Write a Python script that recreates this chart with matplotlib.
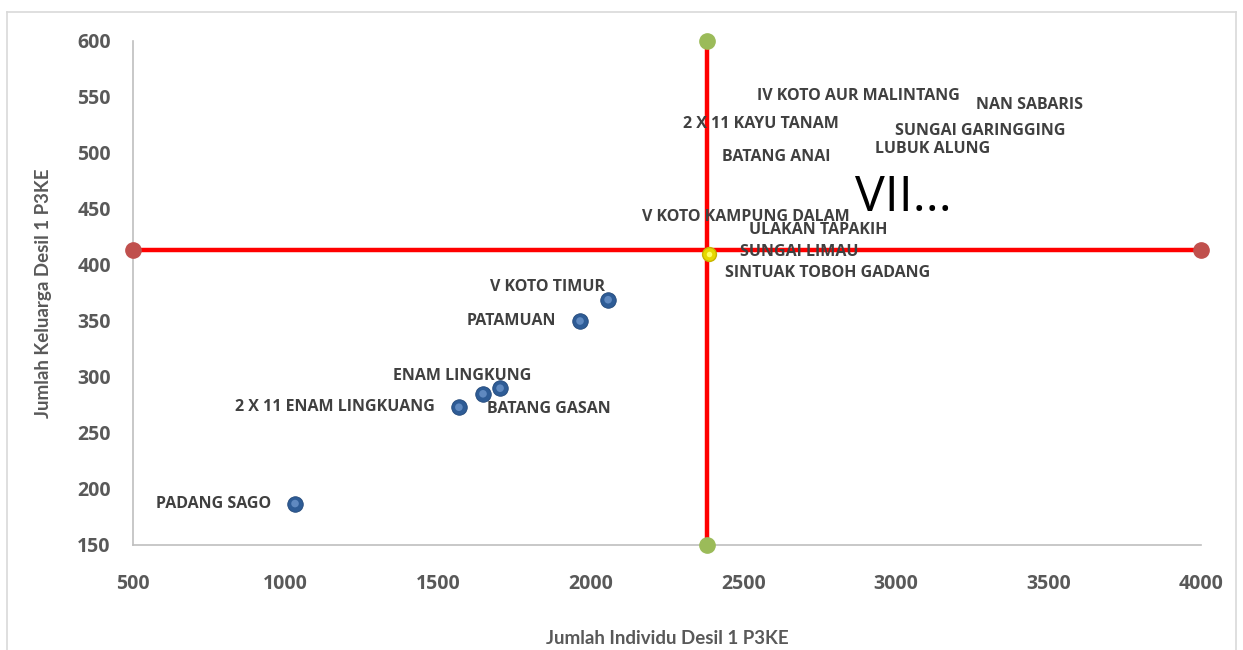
import matplotlib
matplotlib.use("Agg")
import matplotlib.pyplot as plt
from matplotlib.lines import Line2D

# kecamatan with visible markers (Jumlah Individu, Jumlah Keluarga)
names_low = ["V KOTO TIMUR", "PATAMUAN", "ENAM LINGKUNG", "BATANG GASAN",
             "2 X 11 ENAM LINGKUANG", "PADANG SAGO"]
x_low = [2057, 1965, 1703, 1647, 1568, 1031]
y_low = [369, 350, 290, 285, 273, 187]
# label offsets in pixels (dx, dy, ha)
off_low = [(-61, 13, "center"), (-24, 0, "right"), (-38, 12, "center"),
           (66, -15, "center"), (-24, 0, "right"), (-24, 0, "right")]

# labels in the upper-right quadrant (markers hidden)
names_up = ["IV KOTO AUR MALINTANG", "NAN SABARIS", "2 X 11 KAYU TANAM",
            "SUNGAI GARINGGING", "LUBUK ALUNG", "BATANG ANAI",
            "V KOTO KAMPUNG DALAM", "ULAKAN TAPAKIH", "SUNGAI LIMAU",
            "SINTUAK TOBOH GADANG"]
x_up = [2876, 3437, 2558, 3276, 3119, 2608, 2509, 2745, 2683, 2775]
y_up = [551, 543, 526, 520, 504, 496, 443, 431, 412, 393]
big_label = "VII..."
big_xy = (3024, 460)

# quadrant lines
mean_x = 2381
mean_y = 413
center_pt = (2388, 410)
xlim = (500, 4000)
ylim = (150, 600)

fig = plt.figure(figsize=(12.43, 6.5), dpi=100)
ax = fig.add_axes([133 / 1243, 1 - 545 / 650, (1201 - 133) / 1243, (545 - 41) / 650])

# outer chart border
fig.add_artist(Line2D([7 / 1243, 1236 / 1243], [1 - 12 / 650] * 2, color="#D9D9D9", lw=1.2))
fig.add_artist(Line2D([7 / 1243] * 2, [0, 1 - 12 / 650], color="#D9D9D9", lw=1.2))
fig.add_artist(Line2D([1236 / 1243] * 2, [0, 1 - 12 / 650], color="#D9D9D9", lw=1.2))

ax.plot(xlim, [mean_y, mean_y], color="#FF0000", lw=3.2, zorder=2)
ax.plot([mean_x, mean_x], ylim, color="#FF0000", lw=3.2, zorder=2)
ax.plot(xlim, [mean_y, mean_y], ls="none", marker="o", ms=11,
        mfc="#C0504D", mec="#C0504D", clip_on=False, zorder=4)
ax.plot([mean_x, mean_x], ylim, ls="none", marker="o", ms=11,
        mfc="#9BBB59", mec="#9BBB59", clip_on=False, zorder=4)
ax.plot(*center_pt, marker="o", ms=10, mfc="#E6D800", mec="#C8B400", zorder=4)
ax.plot(*center_pt, marker="o", ms=4, mfc="#FFFF66", mec="none", zorder=5)

# blue points, two layers for a bit of shading
ax.scatter(x_low, y_low, s=125, c="#2E5C96", edgecolors="#24497A", lw=0.6, zorder=4)
ax.scatter(x_low, y_low, s=30, c="#5F89C0", edgecolors="none", zorder=5)

lab = dict(fontfamily="Open Sans", fontweight="bold", fontsize=11.5, color="#404040")
for n, x, y, (dx, dy, ha) in zip(names_low, x_low, y_low, off_low):
    ax.annotate(n, (x, y), xytext=(dx, dy), textcoords="offset pixels",
                ha=ha, va="center", zorder=6, **lab)
for n, x, y in zip(names_up, x_up, y_up):
    ax.text(x, y, n, ha="center", va="center", zorder=6, **lab)
ax.text(*big_xy, big_label, ha="center", va="center", fontfamily="Open Sans",
        fontsize=36, color="#000000", zorder=6)

ax.set_xlim(*xlim)
ax.set_ylim(*ylim)
ax.set_xticks(range(500, 4001, 500))
ax.set_yticks(range(150, 601, 50))
for s in ["top", "right"]:
    ax.spines[s].set_visible(False)
for s in ["left", "bottom"]:
    ax.spines[s].set_color("#BFBFBF")
    ax.spines[s].set_linewidth(1.2)
ax.tick_params(axis="y", length=0, pad=16)
ax.tick_params(axis="x", length=0, pad=21)
for t in ax.get_xticklabels() + ax.get_yticklabels():
    t.set_fontfamily("Open Sans")
    t.set_fontweight("bold")
    t.set_fontsize(14)
    t.set_color("#595959")

fig.text(0.5 * (133 + 1201) / 1243, 1 - 639 / 650, "Jumlah Individu Desil 1 P3KE",
         ha="center", va="center", fontfamily="Lato", fontweight="bold",
         fontsize=13.5, color="#595959")
fig.text(44 / 1243, 1 - 293 / 650, "Jumlah Keluarga Desil 1 P3KE", rotation=90,
         ha="center", va="center", fontfamily="Lato", fontweight="bold",
         fontsize=13.5, color="#595959")

fig.savefig("out.png", dpi=100)
